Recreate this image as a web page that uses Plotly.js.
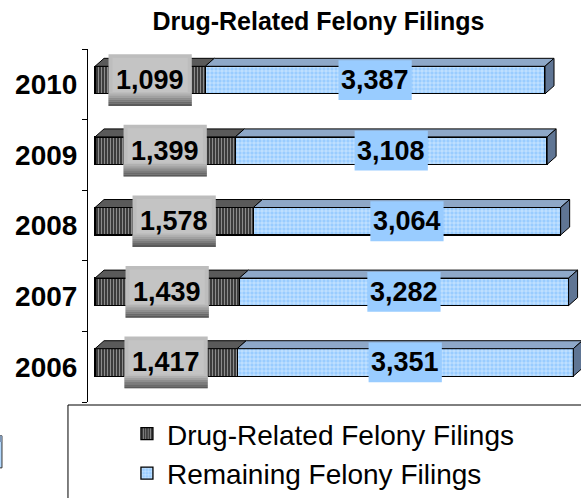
<!DOCTYPE html>
<html>
<head>
<meta charset="utf-8">
<script src="https://cdn.plot.ly/plotly-3.0.1.min.js"></script>
<style>html,body{margin:0;padding:0;background:#fff;}#chart{width:581px;height:498px;}</style>
</head>
<body>
<div id="chart"></div>
<script>
// ---- data ----
var years = ['2006', '2007', '2008', '2009', '2010'];
var drugFilings = [1417, 1439, 1578, 1399, 1099];
var remainingFilings = [3351, 3282, 3064, 3108, 3387];
var seriesNames = ['Drug-Related Felony Filings', 'Remaining Felony Filings'];
var chartTitle = 'Drug-Related Felony Filings';

var FONT = 'Arial, "Liberation Sans", sans-serif';
var BAR_W = 0.39, BAR_OFF = -0.135;
var DX = 90, DY = 0.113; // 3D depth in axis units

function fmt(v) { return v.toLocaleString('en-US'); }

var traces = [
  {
    type: 'bar', orientation: 'h', name: seriesNames[0],
    y: years, x: drugFilings, width: BAR_W, offset: BAR_OFF,
    legendgroup: 'a',
    marker: {
      color: '#3c3c3c',
      line: {color: '#000', width: 1.3},
      pattern: {shape: '|', size: 3, solidity: 0.35, fgcolor: '#8c8c8c', bgcolor: '#3c3c3c', fillmode: 'replace'}
    },
    hoverinfo: 'none'
  },
  {
    type: 'bar', orientation: 'h', name: seriesNames[1],
    y: years, x: remainingFilings, width: BAR_W, offset: BAR_OFF,
    legendgroup: 'b',
    marker: {
      color: '#a6d2ff',
      line: {color: '#000', width: 1.3},
      pattern: {shape: '+', size: 4, solidity: 0.25, fgcolor: '#e8f3ff', bgcolor: '#99ccff', fillmode: 'replace'}
    },
    hoverinfo: 'none'
  }
];

var shapes = [];
var annotations = [];
var lineBlk = {color: '#000', width: 1};

years.forEach(function (yr, i) {
  var d = drugFilings[i], r = remainingFilings[i], tot = d + r;
  var yb = i + BAR_OFF, yt = yb + BAR_W;
  // top face of drug segment
  shapes.push({type: 'path', xref: 'x', yref: 'y', layer: 'above',
    path: 'M0,' + yt + ' L' + d + ',' + yt + ' L' + (d + DX) + ',' + (yt + DY) + ' L' + DX + ',' + (yt + DY) + ' Z',
    fillcolor: '#5a5a5a', line: lineBlk});
  // top face of remaining segment
  shapes.push({type: 'path', xref: 'x', yref: 'y', layer: 'above',
    path: 'M' + d + ',' + yt + ' L' + tot + ',' + yt + ' L' + (tot + DX) + ',' + (yt + DY) + ' L' + (d + DX) + ',' + (yt + DY) + ' Z',
    fillcolor: '#8ea8c8', line: lineBlk});
  // right end face
  shapes.push({type: 'path', xref: 'x', yref: 'y', layer: 'above',
    path: 'M' + tot + ',' + yt + ' L' + (tot + DX) + ',' + (yt + DY) + ' L' + (tot + DX) + ',' + (yb + DY) + ' L' + tot + ',' + yb + ' Z',
    fillcolor: '#5f7594', line: lineBlk});

  // gray label box for drug value (stepped gradient)
  var cx = d / 2, hw = 415, yc = i + 0.06, hh = 0.366;
  var top = yc + hh, bot = yc - hh;
  shapes.push({type: 'rect', xref: 'x', yref: 'y', layer: 'above',
    x0: cx - hw, x1: cx + hw, y0: bot, y1: top, fillcolor: '#bdbdbd', line: {width: 0}});
  var steps = ['#b0b0b0', '#a0a0a0', '#8e8e8e', '#7c7c7c', '#6a6a6a', '#5a5a5a'];
  var bandTop = bot + (top - bot) * 0.24;
  steps.forEach(function (c, k) {
    var y1 = bandTop - (bandTop - bot) * k / steps.length;
    var y0 = bandTop - (bandTop - bot) * (k + 1) / steps.length;
    shapes.push({type: 'rect', xref: 'x', yref: 'y', layer: 'above',
      x0: cx - hw, x1: cx + hw, y0: y0, y1: y1, fillcolor: c, line: {width: 0}});
  });
  shapes.push({type: 'rect', xref: 'x', yref: 'y', layer: 'above',
    x0: cx - hw + 40, x1: cx + hw - 40, y0: bandTop + 0.02, y1: top - 0.05, fillcolor: '#c4c4c4', line: {width: 0}});

  // light blue label box for remaining value
  var cx2 = d + r / 2, hw2 = 365, hh2 = 0.282;
  shapes.push({type: 'rect', xref: 'x', yref: 'y', layer: 'above',
    x0: cx2 - hw2, x1: cx2 + hw2, y0: yc - hh2, y1: yc + hh2, fillcolor: '#99ccff', line: {width: 0}});

  annotations.push({xref: 'x', yref: 'y', x: cx, y: yc, text: '<b>' + fmt(d) + '</b>',
    showarrow: false, font: {family: FONT, size: 27, color: '#000'}, xanchor: 'center', yanchor: 'middle'});
  annotations.push({xref: 'x', yref: 'y', x: cx2, y: yc, text: '<b>' + fmt(r) + '</b>',
    showarrow: false, font: {family: FONT, size: 27, color: '#000'}, xanchor: 'center', yanchor: 'middle'});
});

// legend frame (extends beyond the page)
shapes.push({type: 'rect', xref: 'paper', yref: 'paper', layer: 'below',
  x0: -0.0406, x1: 1.1, y0: -0.4, y1: -0.0085, fillcolor: 'rgba(0,0,0,0)', line: {color: '#000', width: 1}});
// clipped fragment at the far left
shapes.push({type: 'rect', xref: 'paper', yref: 'paper', layer: 'above',
  x0: -0.19, x1: -0.1745, y0: -0.1866, y1: -0.0958, fillcolor: '#b3d9ff', line: {color: '#333', width: 1}});
shapes.push({type: 'rect', xref: 'paper', yref: 'paper', layer: 'above',
  x0: -0.19, x1: -0.1745, y0: -0.113, y1: -0.0958, fillcolor: '#7f97b5', line: {width: 0}});

var layout = {
  width: 581, height: 498,
  margin: {l: 88, r: 0, t: 49, b: 94},
  paper_bgcolor: '#fff', plot_bgcolor: 'rgba(0,0,0,0)',
  barmode: 'stack',
  showlegend: true,
  title: {text: '<b>' + chartTitle + '</b>', font: {family: FONT, size: 25, color: '#000'},
    x: 0.548, xref: 'container', xanchor: 'center', y: 0.958, yref: 'container', yanchor: 'middle'},
  xaxis: {range: [-70, 4845], visible: false, fixedrange: true},
  yaxis: {type: 'category', categoryorder: 'array', categoryarray: years, range: [-0.5, 4.5],
    showline: true, linecolor: '#000', linewidth: 1, showgrid: false, zeroline: false,
    ticks: 'outside', tickson: 'boundaries', ticklen: 5, tickcolor: '#000', tickwidth: 1,
    ticklabelstandoff: 4,
    tickfont: {family: FONT, size: 28, color: '#000', weight: 'bold'}},
  legend: {x: 0.079, y: -0.02, xanchor: 'left', yanchor: 'top', traceorder: 'grouped', tracegroupgap: 0,
    bgcolor: 'rgba(0,0,0,0)', borderwidth: 0, font: {family: FONT, size: 28, color: '#000'}},
  shapes: shapes,
  annotations: annotations
};

Plotly.newPlot('chart', traces, layout, {displayModeBar: false, staticPlot: true});
</script>
</body>
</html>
